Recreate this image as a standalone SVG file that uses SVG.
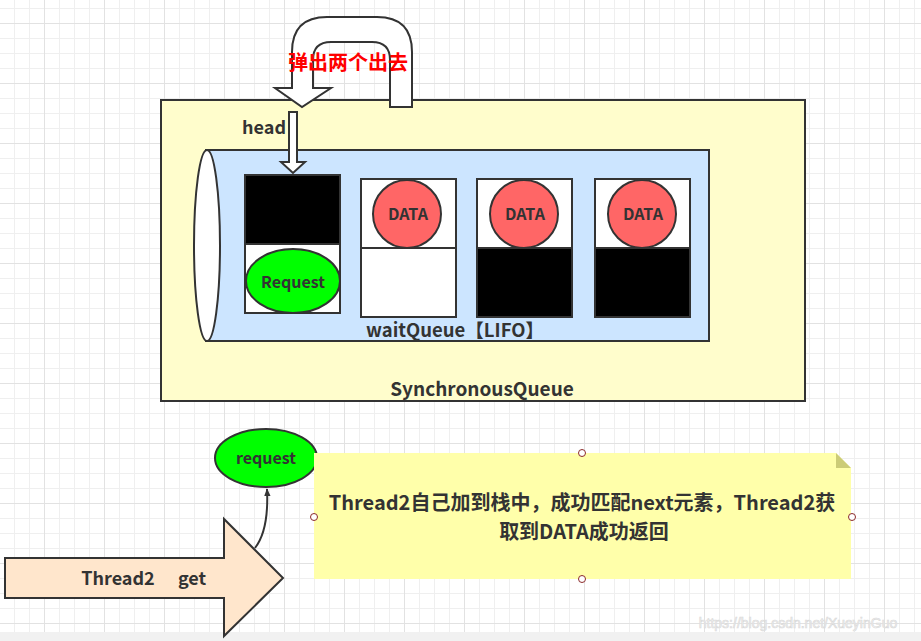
<svg xmlns="http://www.w3.org/2000/svg" width="921" height="641" viewBox="0 0 921 641">
<defs>
<pattern id="grid" patternUnits="userSpaceOnUse" x="44" y="23" width="60" height="60">
<rect x="0" y="0" width="60" height="60" fill="#ffffff"/>
<rect x="15" y="0" width="1" height="60" fill="#efefef"/>
<rect x="30" y="0" width="1" height="60" fill="#efefef"/>
<rect x="45" y="0" width="1" height="60" fill="#efefef"/>
<rect x="0" y="15" width="60" height="1" fill="#efefef"/>
<rect x="0" y="30" width="60" height="1" fill="#efefef"/>
<rect x="0" y="45" width="60" height="1" fill="#efefef"/>
<rect x="0" y="0" width="1" height="60" fill="#e2e2e2"/>
<rect x="0" y="0" width="60" height="1" fill="#e2e2e2"/>
</pattern>
<marker id="arr" viewBox="0 0 10 10" refX="9" refY="5" markerWidth="8" markerHeight="8" orient="auto" markerUnits="userSpaceOnUse">
<path d="M0,1 L10,5 L0,9 Z" fill="#333"/>
</marker>
</defs>
<style>
.ln{stroke:#333;stroke-width:2}
.t{font-family:"Noto Sans CJK SC","Microsoft YaHei",sans-serif;font-weight:bold;fill:#333;text-anchor:middle}
.h{fill:#fff;stroke:#8b2a2a;stroke-width:1}
</style>
<rect width="921" height="641" fill="url(#grid)"/>
<rect x="0" y="632" width="921" height="9" fill="#f1f1f1"/>

<g id="synchronousQueue">
<rect x="161" y="100" width="644" height="301" fill="#fffdcc" class="ln"/>
<text class="t" x="482" y="396" font-size="19">SynchronousQueue</text>
</g>

<g id="waitQueue">
<rect x="206" y="150" width="503" height="191" fill="#cce5ff" class="ln"/>
<ellipse cx="207" cy="245.5" rx="13" ry="95.5" fill="#fff" class="ln"/>
<text class="t" x="455" y="337" font-size="18.5">waitQueue【LIFO】</text>
</g>

<g id="node1">
<rect x="245" y="175" width="95" height="69" fill="#000" class="ln"/>
<rect x="245" y="244" width="95" height="69" fill="#fff" class="ln"/>
<ellipse cx="293" cy="281" rx="47" ry="32" fill="#00ff00" class="ln"/>
<text class="t" x="293" y="288" font-size="16">Request</text>
</g>

<g id="node2">
<rect x="361" y="179" width="95" height="69" fill="#fff" class="ln"/>
<rect x="361" y="248" width="95" height="69" fill="#fff" class="ln"/>
<ellipse cx="407" cy="214" rx="34" ry="34" fill="#ff6666" class="ln"/>
<text class="t" x="408" y="220" font-size="16">DATA</text>
</g>

<g id="node3">
<rect x="477" y="179" width="95" height="69" fill="#fff" class="ln"/>
<rect x="477" y="248" width="95" height="69" fill="#000" class="ln"/>
<ellipse cx="524" cy="214" rx="34" ry="34" fill="#ff6666" class="ln"/>
<text class="t" x="525" y="220" font-size="16">DATA</text>
</g>

<g id="node4">
<rect x="595" y="179" width="95" height="69" fill="#fff" class="ln"/>
<rect x="595" y="248" width="95" height="69" fill="#000" class="ln"/>
<ellipse cx="642" cy="214" rx="34" ry="34" fill="#ff6666" class="ln"/>
<text class="t" x="643" y="220" font-size="16">DATA</text>
</g>

<g id="popArrow">
<path d="M292 88 L292 52 Q292 17 327 17 L377 17 Q412 17 412 52 L412 107 L390 107 L390 60 Q390 42 372 42 L331 42 Q313 42 313 60 L313 88 L331 88 L302 107 L275 88 Z" fill="#fff" class="ln" stroke-linejoin="miter"/>
<text x="348" y="70" font-size="20" font-family="Noto Sans CJK SC,sans-serif" font-weight="bold" fill="#ff0000" text-anchor="middle">弹出两个出去</text>
</g>

<g id="headLabel">
<text class="t" x="264" y="134" font-size="18">head</text>
<path d="M289 112 L297 112 L297 162 L305 162 L293 173 L281 162 L289 162 Z" fill="#fff" class="ln"/>
</g>

<g id="threadArrow">
<path d="M5 558 L224 558 L224 519 L283 578 L224 636 L224 598 L5 598 Z" fill="#ffe6cc" class="ln"/>
<text class="t" x="118" y="585" font-size="18">Thread2</text>
<text class="t" x="192" y="585" font-size="18">get</text>
</g>

<g id="requestNode">
<ellipse cx="266" cy="458" rx="51" ry="29" fill="#00ff00" class="ln"/>
<text class="t" x="266" y="464" font-size="16">request</text>
</g>

<g id="note">
<path d="M314 453 L836 453 L851 468 L851 579 L314 579 Z" fill="#ffffaa"/>
<path d="M836 453 L851 468 L836 468 Z" fill="#cccc77"/>
<text class="t" x="582" y="510" font-size="20">Thread2自己加到栈中，成功匹配next元素，Thread2获</text>
<text class="t" x="584" y="539" font-size="20">取到DATA成功返回</text>
<circle class="h" cx="582" cy="453" r="3.5"/>
<circle class="h" cx="314" cy="517" r="3.5"/>
<circle class="h" cx="852" cy="517" r="3.5"/>
<circle class="h" cx="582" cy="579" r="3.5"/>
</g>

<g id="connectors">
<path d="M255 548 Q269 530 267 489" fill="none" stroke="#333" stroke-width="2" marker-end="url(#arr)"/>
</g>

<text x="798" y="628" font-size="14" font-family="Liberation Sans,sans-serif" fill="#f4f4f4" stroke="#d8d8d8" stroke-width="0.6" text-anchor="middle">https://blog.csdn.net/XueyinGuo</text>
</svg>
